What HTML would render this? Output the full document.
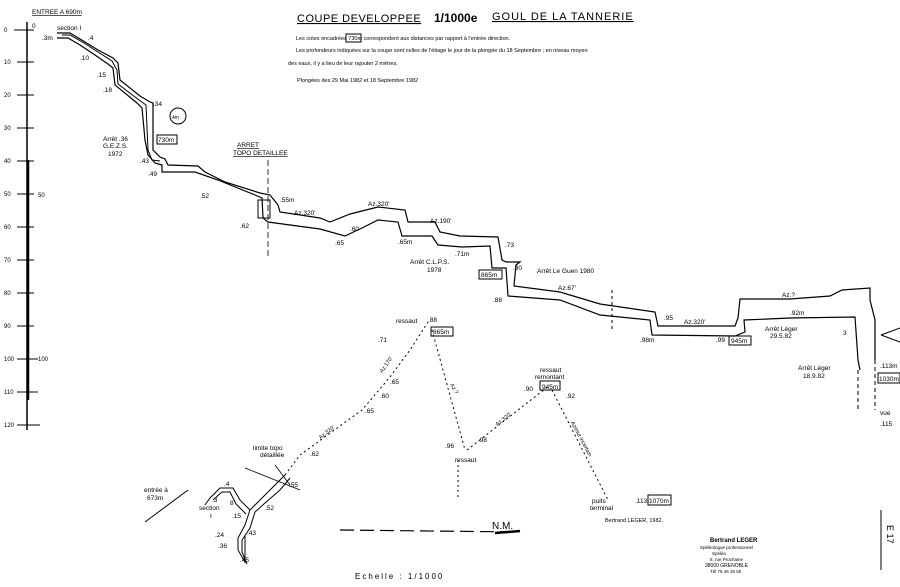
<!DOCTYPE html>
<html><head><meta charset="utf-8"><style>
body{margin:0;background:#fff;}
svg{display:block;font-family:"Liberation Sans",sans-serif;}
text{fill:#000;}
</style></head><body>
<svg width="900" height="587" viewBox="0 0 900 587" xmlns="http://www.w3.org/2000/svg">
<g stroke="#000" fill="none">
<line x1="27" y1="22" x2="27" y2="430" stroke-width="1.5"/>
<line x1="28" y1="160" x2="28" y2="400" stroke-width="2.5"/>
<g stroke-width="1">
<line x1="14" y1="30" x2="34" y2="30"/><line x1="17" y1="62" x2="34" y2="62"/>
<line x1="17" y1="95" x2="34" y2="95"/><line x1="17" y1="128" x2="34" y2="128"/>
<line x1="17" y1="161" x2="34" y2="161"/><line x1="17" y1="194" x2="34" y2="194"/>
<line x1="17" y1="227" x2="34" y2="227"/><line x1="17" y1="260" x2="34" y2="260"/>
<line x1="17" y1="293" x2="34" y2="293"/><line x1="17" y1="326" x2="34" y2="326"/>
<line x1="17" y1="359" x2="38" y2="359"/><line x1="17" y1="392" x2="38" y2="392"/>
<line x1="17" y1="425" x2="40" y2="425"/>
</g>
<polyline stroke-width="1.2" points="57,33 70,33 85,42 98,50 113,58 118,63 120,80 140,96 150,102 153,103 153,150 160,157 165,159 168,165 198,166 205,172 225,182 260,193 270,195 278,205 280,212 320,218 330,222 350,214 378,207 405,210 408,222 435,222 440,232 460,236 498,237 502,260 506,262 520,262 516,265 514,286 560,292 600,304 655,312 658,326 735,326 738,318 740,299 790,299 830,296 842,290 870,288 870,300 875,320 875,360"/>
<polyline stroke-width="1.2" points="57,38 68,38 80,45 95,55 108,64 113,68 115,85 137,103 142,108 145,140 148,155 155,163 162,165 162,172 195,172 218,180 255,195 262,198 263,218 268,222 320,229 345,236 362,228 378,220 398,222 402,236 432,236 438,245 462,247 490,246 492,268 506,268 508,296 560,300 600,315 650,320 652,335 735,336 745,332 744,320 790,318 855,317 858,360 860,370"/>
<polyline stroke-width="1" points="62,35 70,35 84,43 98,52 112,61 117,70 118,84 139,100 146,105 148,150 152,160 160,161"/>
<rect x="258" y="200" width="12" height="18" stroke-width="1"/>
<line x1="268" y1="160" x2="268" y2="258" stroke-dasharray="6,3" stroke-width="0.8"/>
<line x1="858" y1="370" x2="858" y2="410" stroke-dasharray="4,3"/>
<line x1="875" y1="360" x2="875" y2="410" stroke-dasharray="4,3"/>
<line x1="612" y1="290" x2="612" y2="330" stroke-dasharray="3,3"/>
<g stroke-dasharray="2,3" stroke-width="1">
<polyline points="285,475 300,455 362,410 390,377 410,350 428,322"/>
<polyline points="432,330 465,450"/>
<polyline points="467,450 550,385"/>
<polyline points="552,390 608,500"/>
<line x1="458" y1="460" x2="458" y2="497"/>
</g>
<polyline stroke-width="1" points="285,475 275,485 260,500 250,510 245,525 238,538 238,550 245,562 245,535"/>
<polyline stroke-width="1" points="290,478 280,490 265,503 255,512 250,528 242,540 242,552 247,564"/>
<polyline stroke-width="1" points="250,510 240,500 233,488 220,488 210,498 205,505"/>
<polyline stroke-width="1" points="246,514 236,504 230,492 222,492 213,500"/>
<line x1="245" y1="468" x2="300" y2="490" stroke-width="0.8"/>
<line x1="275" y1="465" x2="290" y2="485" stroke-width="0.8"/>
<line x1="145" y1="522" x2="188" y2="490" stroke-width="1"/>
<line x1="340" y1="530" x2="520" y2="532" stroke-dasharray="14,6" stroke-width="1.2"/>
<path d="M495,533 L520,531" stroke-width="2.5"/>
<rect x="157" y="135" width="20" height="9"/>
<rect x="346" y="34" width="15" height="8"/>
<rect x="431" y="327" width="22" height="9"/>
<rect x="479" y="270" width="23" height="9"/>
<rect x="729" y="336" width="22" height="9"/>
<rect x="540" y="381" width="20" height="9"/>
<rect x="648" y="495" width="23" height="10"/>
<rect x="878" y="373" width="22" height="10"/>
<circle cx="178" cy="116" r="8"/>
<line x1="881" y1="335" x2="900" y2="328"/><line x1="881" y1="335" x2="900" y2="342"/>
<line x1="881" y1="510" x2="881" y2="570" stroke-width="1"/>
</g>
<g font-size="6">
<text x="4" y="32">0</text><text x="4" y="64">10</text><text x="4" y="97">20</text><text x="4" y="130">30</text><text x="4" y="163">40</text><text x="4" y="196">50</text><text x="38" y="197">50</text><text x="4" y="229">60</text><text x="4" y="262">70</text><text x="4" y="295">80</text><text x="4" y="328">90</text><text x="38" y="361">100</text><text x="4" y="361">100</text><text x="4" y="394">110</text><text x="4" y="427">120</text>
</g>
<g font-size="6.5">
<text x="32" y="14" text-decoration="underline">ENTREE A 690m</text>
<text x="32" y="28">0</text><text x="57" y="30">section I</text>
<text x="42" y="40">.3m</text><text x="88" y="40">.4</text>
<text x="80" y="60">.10</text><text x="97" y="77">.15</text><text x="103" y="92">.18</text>
<text x="153" y="106">.34</text><text x="103" y="141">Arrêt .36</text><text x="103" y="148">G.E.Z.S.</text><text x="108" y="156">1972</text>
<text x="140" y="163">.43</text><text x="148" y="176">.49</text><text x="200" y="198">.52</text>
<text x="172" y="119" font-size="5">4m</text><text x="158" y="142">730m</text>
<text x="237" y="147" text-decoration="underline">ARRET</text><text x="233" y="155" text-decoration="underline">TOPO DETAILLEE</text>
<text x="280" y="202">.55m</text><text x="294" y="215">Az.320'</text><text x="240" y="228">.62</text>
<text x="335" y="245">.65</text><text x="368" y="206">Az.320'</text><text x="350" y="231">.60</text>
<text x="398" y="244">.65m</text><text x="430" y="223">Az.190'</text><text x="455" y="256">.71m</text>
<text x="410" y="264">Arrêt C.L.P.S.</text><text x="427" y="272">1978</text>
<text x="481" y="277">865m</text><text x="505" y="247">.73</text><text x="513" y="270">.80</text>
<text x="537" y="273">Arrêt Le Guen 1980</text><text x="558" y="290">Az.67'</text>
<text x="493" y="302">.88</text><text x="664" y="320">.95</text><text x="684" y="324">Az.320'</text>
<text x="640" y="342">.98m</text><text x="716" y="342">.99</text><text x="731" y="343">945m</text>
<text x="782" y="297">Az.?</text><text x="790" y="315">.92m</text>
<text x="765" y="331">Arrêt Léger</text><text x="770" y="338">29.5.82</text>
<text x="843" y="335">3</text><text x="880" y="368">.113m</text><text x="879" y="381">1030m</text>
<text x="798" y="370">Arrêt Léger</text><text x="803" y="378">18.9.82</text>
<text x="880" y="415">vue</text><text x="880" y="426">.115</text>
<text x="396" y="323">ressaut</text><text x="428" y="322">.88</text><text x="433" y="334">865m</text>
<text x="378" y="342">.71</text><text x="390" y="384">.65</text><text x="380" y="398">.60</text><text x="365" y="413">.65</text>
<text x="253" y="450">limite topo</text><text x="260" y="457">détaillée</text><text x="310" y="456">.62</text>
<text x="289" y="487">.55</text><text x="265" y="510">.52</text>
<text x="445" y="448">.96</text><text x="478" y="442">.98</text><text x="455" y="462">ressaut</text>
<text x="540" y="372">ressaut</text><text x="535" y="379">remontant</text>
<text x="524" y="391">.90</text><text x="542" y="389">945m</text><text x="566" y="398">.92</text>
<text x="592" y="503">puits</text><text x="590" y="510">terminal</text><text x="635" y="503">.113</text><text x="649" y="503">1070m</text>
<text x="144" y="492">entrée à</text><text x="147" y="500">673m</text>
<text x="199" y="510">section</text><text x="210" y="518">I</text>
<text x="224" y="486">.4</text><text x="212" y="502">.3</text><text x="230" y="505">8</text>
<text x="232" y="518">.15</text><text x="215" y="537">.24</text><text x="218" y="548">.36</text><text x="247" y="535">.43</text><text x="240" y="562">.45</text>
<text x="605" y="522" font-size="5.5">Bertrand LEGER, 1982.</text>
<text x="710" y="542" font-size="6" font-weight="bold">Bertrand LEGER</text>
<text x="700" y="549" font-size="4.5">Spéléologue professionnel</text>
<text x="712" y="555" font-size="4.5">Spéléo</text>
<text x="710" y="561" font-size="4.5">8, rue Prochaine</text>
<text x="705" y="567" font-size="5">38000 GRENOBLE</text>
<text x="710" y="573" font-size="4.5">Tél 76 46 26 50</text>
</g>
<g font-size="5.5" transform="rotate(-55 388 365)"><text x="378" y="365">Az.170'</text></g>
<g font-size="5.5" transform="rotate(-38 330 432)"><text x="318" y="432">Az.320'</text></g>
<g font-size="5.5" transform="rotate(-38 505 420)"><text x="495" y="420">Az.320'</text></g>
<g font-size="5.5" transform="rotate(62 580 440)"><text x="560" y="440">Azimut incertain</text></g>
<g font-size="5.5" transform="rotate(60 453 390)"><text x="447" y="390">Az.?</text></g>
<text x="297" y="22" font-size="11" text-decoration="underline" letter-spacing="0.5">COUPE DEVELOPPEE</text>
<text x="434" y="22" font-size="12" font-weight="bold">1/1000e</text>
<text x="492" y="20" font-size="11" text-decoration="underline" letter-spacing="1">GOUL DE LA TANNERIE</text>
<text x="296" y="40" font-size="5.5">Les cotes encadrées 730m correspondent aux distances par rapport à l'entrée direction.</text>
<text x="296" y="52" font-size="5.5">Les profondeurs indiquées sur la coupe sont celles de l'étiage le jour de la plongée du 18 Septembre ; en niveau moyen</text>
<text x="288" y="65" font-size="5.5">des eaux, il y a lieu de leur rajouter 2 mètres.</text>
<text x="297" y="82" font-size="5.5">Plongées des 29 Mai 1982 et 18 Septembre 1982</text>
<text x="492" y="529" font-size="10">N.M.</text>
<text x="355" y="579" font-size="8" letter-spacing="2">Echelle : 1/1000</text>
<text x="887" y="525" font-size="9" transform="rotate(90 887 525)">E 17</text>
</svg>
</body></html>
